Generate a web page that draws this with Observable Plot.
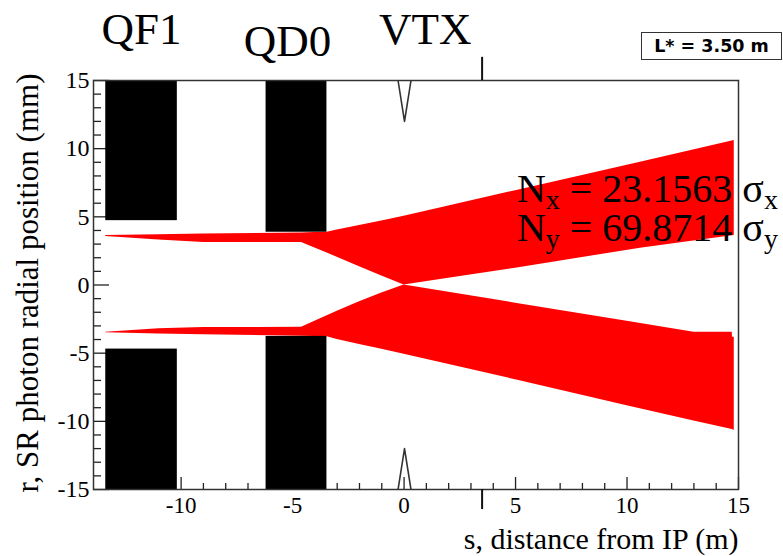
<!DOCTYPE html>
<html><head><meta charset="utf-8">
<script src="https://cdn.jsdelivr.net/npm/d3@7"></script>
<script src="https://cdn.jsdelivr.net/npm/@observablehq/plot@0.6"></script>
<style>
html,body{margin:0;padding:0;background:#fff;}
#wrap{position:relative;width:783px;height:556px;overflow:hidden;background:#fff;}
#lstar{position:absolute;left:641px;top:32px;width:139px;height:26px;border:1.5px solid #333;font:bold 17.5px "DejaVu Sans",sans-serif;display:flex;align-items:center;justify-content:center;color:#000;}
</style></head><body><div id="wrap"></div>
<script>
// ---- axis ticks ----
const majorX = [-10, -5, 0, 5, 10, 15];
const minorX = [-13, -12, -11, -9, -8, -7, -6, -4, -3, -2, -1, 1, 2, 3, 4, 6, 7, 8, 9, 11, 12, 13, 14];
const majorY = [-15, -10, -5, 0, 5, 10, 15];
const minorY = [-14, -13, -12, -11, -9, -8, -7, -6, -4, -3, -2, -1, 1, 2, 3, 4, 6, 7, 8, 9, 11, 12, 13, 14];

// ---- magnets (black blocks) ----
const magnetNames = ["QF1", "QF1", "QD0", "QD0"];
const magnetS1 = [-13.38, -13.38, -6.19, -6.19];
const magnetS2 = [-10.17, -10.17, -3.46, -3.46];
const magnetR1 = [4.72, -15, 3.87, -15];
const magnetR2 = [15, -4.70, 15, -3.77];

// ---- VTX beam pipe ----
const vtxS = [-0.27, 0.02, 0.31];
const vtxTopR = [15, 12.0, 15];
const vtxBotR = [-15, -12.0, -15];

// ---- SR fan, upper band ----
const upperS  = [-13.38, -11, -9, -4.6, -4.0, -3.45, -3.0, -2.0, -1.0, 0, 2, 5, 10.6, 14.81];
const upperHi = [3.63, 3.68, 3.74, 3.82, 3.85, 3.87, 4.03, 4.37, 4.70, 5.05, 5.80, 6.92, 9.0, 10.6];
const upperLo = [3.55, 3.30, 3.12, 3.12, 2.72, 2.35, 2.03, 1.34, 0.66, 0.0, 0.49, 1.23, 2.70, 3.63];

// ---- SR fan, lower band ----
const lowerS  = [-13.38, -11, -9, -4.6, -4.0, -3.45, -3.0, -2.0, -1.0, 0, 5, 10, 13, 14.72, 14.73, 14.81];
const lowerHi = [-3.46, -3.20, -3.12, -3.10, -2.65, -2.25, -1.92, -1.23, -0.58, 0.0, -1.33, -2.66, -3.46, -3.46, -3.83, -3.83];
const lowerLo = [-3.50, -3.60, -3.65, -3.75, -3.77, -3.80, -4.00, -4.37, -4.72, -5.08, -6.95, -8.85, -9.97, -10.60, -10.60, -10.67];

// ---- L* marker ----
const lstarS = [3.5];
const lstarText = "L* = 3.50 m";

// ---- labels ----
const magnetLabels = ["QF1", "QD0", "VTX"];
const labelS = [-11.78, -5.23, 0.95];
const labelR = [17.71, 16.83, 17.71];

const nLines = ["N_{x} = 23.1563 σ_{x}", "N_{y} = 69.8714 σ_{y}"];
const nS = [5.06, 5.06];
const nR = [6.07, 3.26];

const xTitle = "s, distance from IP (m)";
const yTitle = "r, SR photon radial position (mm)";

// build tables
const magnets = magnetNames.map((n, i) => ({n, s1: magnetS1[i], s2: magnetS2[i], r1: magnetR1[i], r2: magnetR2[i]}));
const upper = upperS.map((s, i) => ({s, hi: upperHi[i], lo: upperLo[i]}));
const lower = lowerS.map((s, i) => ({s, hi: lowerHi[i], lo: lowerLo[i]}));
const vtxTop = vtxS.map((s, i) => ({s, r: vtxTopR[i]}));
const vtxBot = vtxS.map((s, i) => ({s, r: vtxBotR[i]}));
const labels = magnetLabels.map((t, i) => ({t, s: labelS[i], r: labelR[i]}));
const nText = nLines.map((t, i) => ({t, s: nS[i], r: nR[i]}));

const W = 783, H = 556, mL = 93, mR = 45, mT = 80, mB = 67;
const fw = W - mL - mR, fh = H - mT - mB;
const serif = "'Liberation Serif', 'Times New Roman', serif";

const chart = Plot.plot({
  width: W, height: H,
  marginLeft: mL, marginRight: mR, marginTop: mT, marginBottom: mB,
  style: {fontFamily: serif, background: "white", overflow: "visible"},
  x: {domain: [-13.93, 15]},
  y: {domain: [-15, 15]},
  marks: [
    // ticks (inward)
    Plot.ruleX(majorX, {x: d => d, insetTop: fh - 12, stroke: "#222", strokeWidth: 1.3}),
    Plot.ruleX(minorX, {x: d => d, insetTop: fh - 6, stroke: "#222", strokeWidth: 1.3}),
    Plot.ruleY(majorY, {y: d => d, insetRight: fw - 16, stroke: "#222", strokeWidth: 1.3}),
    Plot.ruleY(minorY, {y: d => d, insetRight: fw - 8, stroke: "#222", strokeWidth: 1.3}),
    // SR fan
    Plot.areaY(upper, {x: "s", y1: "lo", y2: "hi", fill: "#ff0000", clip: true}),
    Plot.areaY(lower, {x: "s", y1: "lo", y2: "hi", fill: "#ff0000", clip: true}),
    // magnets
    Plot.rect(magnets, {x1: "s1", x2: "s2", y1: "r1", y2: "r2", fill: "black", clip: true}),
    // VTX beam pipe
    Plot.line(vtxTop, {x: "s", y: "r", stroke: "#333", strokeWidth: 1.6, clip: true}),
    Plot.line(vtxBot, {x: "s", y: "r", stroke: "#333", strokeWidth: 1.6, clip: true}),
    // frame
    Plot.frame({stroke: "#333", strokeWidth: 1.5}),
    // L* markers outside the frame
    Plot.ruleX(lstarS, {x: d => d, y1: 15, y2: 16.7, stroke: "#111", strokeWidth: 2}),
    Plot.ruleX(lstarS, {x: d => d, y1: -15, y2: -16.47, stroke: "#111", strokeWidth: 2}),
    // axes
    Plot.axisX({ticks: majorX, tickSize: 0, tickPadding: 7, tickFormat: d => String(d), fontSize: 23, fontFamily: serif, label: null}),
    Plot.axisY({ticks: majorY, tickSize: 0, tickPadding: 4, tickFormat: d => String(d), fontSize: 24, fontFamily: serif, label: null}),
    // titles
    Plot.text([xTitle], {text: d => d, frameAnchor: "bottom-right", textAnchor: "end", lineAnchor: "bottom", dy: 59, fontSize: 30, fontFamily: serif, fill: "black"}),
    Plot.text([yTitle], {text: d => d, frameAnchor: "left", rotate: -90, textAnchor: "middle", lineAnchor: "bottom", dx: -56, dy: -2, fontSize: 31, fontFamily: serif, fill: "black"}),
    // magnet labels
    Plot.text(labels, {x: "s", y: "r", text: "t", textAnchor: "middle", lineAnchor: "bottom", fontSize: 45, fontFamily: serif, fill: "black"}),
    // N sigma text
    Plot.text(nText, {x: "s", y: "r", text: "t", textAnchor: "start", lineAnchor: "bottom", fontSize: 40, fontFamily: serif, fill: "black"})
  ]
});

// force serif font on every text (axis tick labels included)
chart.querySelectorAll("text").forEach(t => { t.style.fontFamily = serif; });

// subscripts for N_{x}, σ_{x} ...
const NS = "http://www.w3.org/2000/svg";
chart.querySelectorAll("text").forEach(t => {
  const s = t.textContent;
  if (!s.includes("_{")) return;
  const shift = 7;
  while (t.firstChild) t.removeChild(t.firstChild);
  t.style.whiteSpace = "pre";
  let down = false;
  for (const p of s.split(/(_\{[^}]*\})/)) {
    if (!p) continue;
    const ts = document.createElementNS(NS, "tspan");
    if (p.startsWith("_{")) {
      ts.textContent = p.slice(2, -1);
      ts.setAttribute("font-size", "28");
      ts.setAttribute("dy", shift);
      down = true;
    } else {
      ts.textContent = p;
      if (down) { ts.setAttribute("dy", -shift); down = false; }
    }
    t.appendChild(ts);
  }
});

const wrap = document.getElementById("wrap");
wrap.appendChild(chart);
const box = document.createElement("div");
box.id = "lstar";
box.textContent = lstarText;
wrap.appendChild(box);
</script>
</body></html>
